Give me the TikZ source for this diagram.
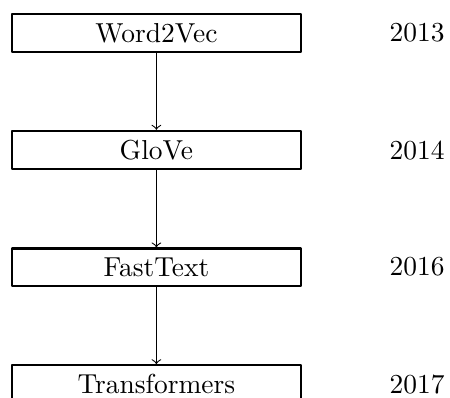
\documentclass[tikz,border=0pt]{standalone}
\usetikzlibrary{positioning}
\begin{document}
\begin{tikzpicture}[line join = round, line cap=round,node distance=1cm,
model/.style={draw,thick,minimum width=3.7cm}]
\useasboundingbox (-57pt,-133pt) rectangle (107pt,12pt);
\node[model] (w2v) at (0,0) {Word2Vec};
\node[model] (glove) at (0,-1.5) {GloVe};
\node[model] (fasttext) at (0,-3) {FastText};
\node[model] (transf) at (0,-4.5) {Transformers};
\node[right=of w2v] (y13) {2013};
\node[right=of glove] (y14) {2014};
\node[right=of fasttext] (y16) {2016};
\node[right=of transf] (y17) {2017};
\draw[->] (w2v)--(glove);
\draw[->] (glove)--(fasttext);
\draw[->] (fasttext)--(transf);
\end{tikzpicture}
\end{document}
